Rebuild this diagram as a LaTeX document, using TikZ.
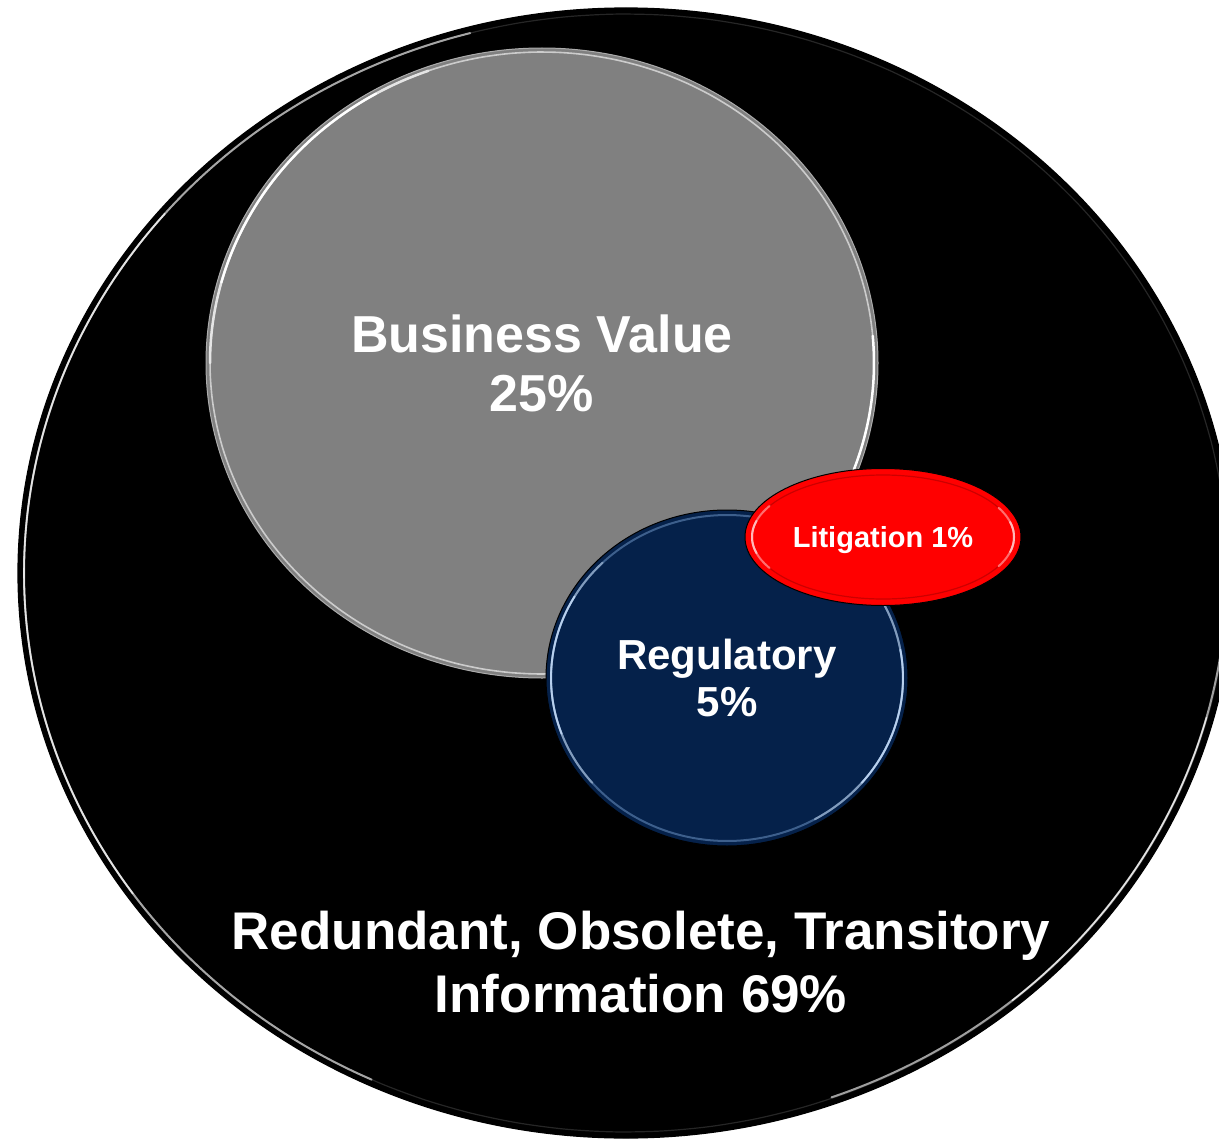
\documentclass[tikz,border=0pt]{standalone}
\usepackage{fontspec}
\setmainfont{Liberation Sans}
\usetikzlibrary{shapes.geometric}
\definecolor{bvgray}{HTML}{808080}
\definecolor{regnavy}{HTML}{05214A}
\definecolor{litred}{HTML}{FF0000}
\definecolor{reghl}{HTML}{B8D0EE}
\definecolor{regring}{HTML}{3D5F8C}
\definecolor{lithl}{HTML}{FFB8B8}
\newcommand\hlarc[8]{%
  \draw[#7, line width=#8, line cap=round]
    plot[domain=#5:#6, samples=80, variable=\t, smooth]
    ({#1+#3*cos(\t)},{#2+#4*sin(\t)});}
\tikzset{
  blob/.style={ellipse, inner sep=0pt, text=white, align=center},
  lbl/.style={text=white, align=center, inner sep=0pt}
}
\begin{document}
\begin{tikzpicture}[x=1pt,y=-1pt]
\clip (0,0) rectangle (1219,1140);
% ROT outer ellipse
\node[blob, draw=black, line width=1.2pt, fill=black, minimum width=1216pt, minimum height=1130pt] (rot) at (626,573) {};
\hlarc{626}{573}{602}{559}{0}{360}{gray!30!black}{1.2pt}
\hlarc{626}{573}{602}{559}{115}{255}{gray!70}{2pt}
\hlarc{626}{573}{602}{559}{145}{220}{white!90!black}{1.6pt}
\hlarc{626}{573}{601}{558}{5}{70}{gray!75}{2pt}
\hlarc{626}{573}{601}{558}{15}{50}{white!90!black}{1.4pt}
% Business value
\node[blob, draw=gray!65, line width=1pt, fill=bvgray, minimum width=672pt, minimum height=630pt,
      font=\bfseries\fontsize{52}{59}\selectfont] (bv) at (542,363) {Business Value\\25\%};
\hlarc{542}{363}{332}{311}{0}{360}{gray!40!white}{1.6pt}
\hlarc{542}{363}{332}{311}{180}{250}{gray!20!white}{2.5pt}
\hlarc{542}{363}{332}{311}{195}{240}{white}{2.2pt}
\hlarc{542}{363}{332}{311}{-5}{30}{white}{2.5pt}
% Regulatory
\node[blob, draw=black, line width=1pt, fill=regnavy, minimum width=362pt, minimum height=336pt,
      font=\bfseries\fontsize{42}{47}\selectfont] (reg) at (727,678) {Regulatory\\5\%};
\hlarc{727}{678}{176}{163}{0}{360}{regring}{2pt}
\hlarc{727}{678}{176}{163}{140}{225}{reghl!70!regnavy}{2pt}
\hlarc{727}{678}{176}{163}{160}{210}{reghl}{1.8pt}
\hlarc{727}{678}{176}{163}{-30}{60}{reghl!70!regnavy}{2pt}
\hlarc{727}{678}{176}{163}{-10}{40}{reghl}{1.8pt}
% Litigation
\node[blob, draw=black, line width=1pt, fill=litred, minimum width=276pt, minimum height=137pt,
      text height=21pt, text depth=0pt,
      font=\bfseries\fontsize{29}{34}\selectfont] (lit) at (883,537) {Litigation 1\%};
\hlarc{883}{537}{131}{62}{0}{360}{litred!80!black}{1.2pt}
\hlarc{883}{537}{131}{62}{150}{210}{lithl!60!litred}{2pt}
\hlarc{883}{537}{131}{62}{165}{195}{lithl}{2pt}
\hlarc{883}{537}{131}{62}{-28}{28}{lithl!60!litred}{2pt}
\hlarc{883}{537}{131}{62}{-14}{14}{lithl}{2pt}
% ROT label
\node[lbl, font=\bfseries\fontsize{53}{63}\selectfont] (rottext) at (641,962)
  {Redundant, Obsolete, Transitory\\Information 69\%};
\end{tikzpicture}
\end{document}
